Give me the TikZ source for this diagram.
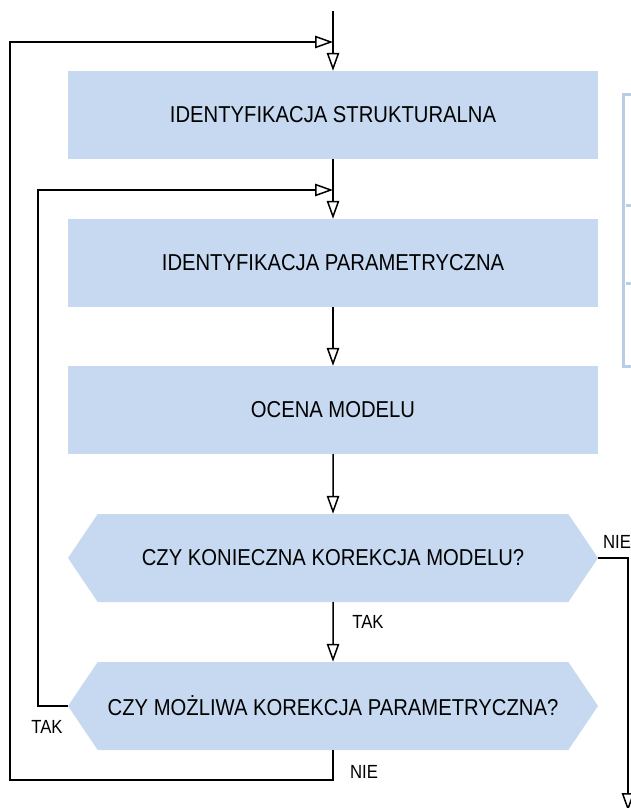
\documentclass[tikz,border=0pt]{standalone}
\usepackage{fontspec}
\setmainfont{Liberation Sans}[FakeStretch=0.88]
\usepackage{xcolor}
\usetikzlibrary{arrows.meta, positioning, shapes.symbols}

\definecolor{boxblue}{RGB}{198,217,240}
\definecolor{barblue}{RGB}{185,205,229}

\begin{document}
\begin{tikzpicture}[x=1pt, y=-1pt,
  krok/.style={draw=none, fill=boxblue, rectangle, minimum width=530pt, minimum height=88pt, inner sep=0pt, font=\fontsize{23}{25}\selectfont},
  pytanie/.style={draw=none, fill=boxblue, signal, signal to=east and west, signal pointer angle=112, minimum width=530pt, minimum height=88pt, inner sep=0pt, font=\fontsize{23}{25}\selectfont},
  etykieta/.style={inner sep=0pt, font=\fontsize{19}{21}\selectfont},
  strz/.style={-{Triangle[open, length=18pt, width=12.5pt]}, line width=1.5pt}]
\useasboundingbox (0,0) rectangle (631,808);

% Bloki
\node[krok] (strukt) at (333,115) {IDENTYFIKACJA STRUKTURALNA};
\node[krok] (param) at (333,263) {IDENTYFIKACJA PARAMETRYCZNA};
\node[krok] (ocena) at (333,410) {OCENA MODELU};
\node[pytanie] (korekcja) at (333,558) {CZY KONIECZNA KOREKCJA MODELU?};
\node[pytanie] (mozliwa) at (333,706) {CZY MOŻLIWA KOREKCJA PARAMETRYCZNA?};

% Punkty pomocnicze
\coordinate (start) at (333,11);
\coordinate (wej1) at (333,42);
\coordinate (wej2) at (333,190);
\coordinate (wyjscie) at (628,811);

% Klamra z prawej
\draw[barblue, line width=3pt] (631,94) -- (623,94) -- (623,366) -- (631,366);
\draw[barblue, line width=3pt] (626,205) -- (631,205);
\draw[barblue, line width=3pt] (626,283) -- (631,283);

% Strzalki
\draw[strz] (start) -- (strukt);
\draw[strz] (strukt) -- (param);
\draw[strz] (param) -- (ocena);
\draw[strz] (ocena) -- (korekcja);
\draw[strz] (korekcja) -- (mozliwa);
\draw[strz] (korekcja.east) -| (wyjscie);
\draw[strz] (mozliwa.west) -- ++(-30,0) |- (wej2);
\draw[strz] (mozliwa.south) |- (10,780) |- (wej1);

% Etykiety
\node[etykieta] (tak1) at (368,622) {TAK};
\node[etykieta] (nie1) at (617,542) {NIE};
\node[etykieta] (tak2) at (47,727) {TAK};
\node[etykieta] (nie2) at (364,772) {NIE};
\end{tikzpicture}
\end{document}
